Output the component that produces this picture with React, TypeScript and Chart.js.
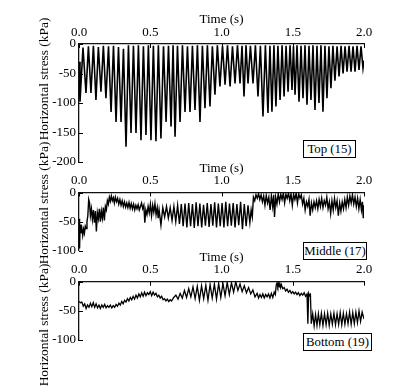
import React, { useEffect, useRef } from 'react';
import { Chart, registerables } from 'chart.js';

Chart.register(...registerables);

const FONT = '"Liberation Serif", "Times New Roman", serif';

const timeTicks = [0, 0.5, 1.0, 1.5, 2.0];
const topYTicks = [0, -50, -100, -150, -200];
const lowYTicks = [0, -50, -100];
const axisTitle = 'Time (s)';
const yTitle = 'Horizontal stress (kPa)';
const panelLabels = ['Top (15)', 'Middle (17)', 'Bottom (19)'];

// [time (s), horizontal stress (kPa)]
const topSeries: number[][] = [
  [0.000, -30], [0.007, -98], [0.028, -6], [0.049, -83], [0.066, -4], [0.084, -83], [0.101, -3],
  [0.119, -95], [0.136, -5], [0.154, -81], [0.171, -3], [0.189, -92], [0.207, -4], [0.225, -115],
  [0.242, -3], [0.260, -132], [0.277, -5], [0.295, -132], [0.312, -8], [0.330, -174], [0.347, -2],
  [0.365, -151], [0.382, -3], [0.400, -151], [0.417, -2], [0.435, -163], [0.452, -4], [0.470, -154],
  [0.487, -2], [0.505, -163], [0.522, -3], [0.540, -165], [0.557, -2], [0.575, -160], [0.593, -4],
  [0.611, -132], [0.628, -3], [0.646, -140], [0.660, -2], [0.674, -157], [0.691, -3], [0.709, -132],
  [0.726, -2], [0.744, -115], [0.761, -4], [0.779, -115], [0.796, -3], [0.814, -112], [0.831, -2],
  [0.849, -132], [0.866, -3], [0.884, -109], [0.901, -2], [0.919, -106], [0.936, -4], [0.954, -86],
  [0.971, -2], [0.989, -72], [1.007, -3], [1.025, -69], [1.042, -2], [1.060, -72], [1.077, -4],
  [1.095, -67], [1.112, -2], [1.130, -67], [1.144, -3], [1.158, -89], [1.172, -2], [1.186, -67],
  [1.203, -3], [1.221, -67], [1.238, -2], [1.256, -89], [1.273, -3], [1.291, -123], [1.308, -2],
  [1.326, -117], [1.340, -3], [1.354, -115], [1.368, -2], [1.382, -106], [1.396, -3], [1.411, -95],
  [1.425, -2], [1.439, -89], [1.453, -3], [1.467, -81], [1.481, -2], [1.495, -78], [1.505, -4],
  [1.516, -86], [1.530, -2], [1.544, -98], [1.558, -3], [1.572, -92], [1.586, -2], [1.600, -103],
  [1.614, -3], [1.628, -95], [1.642, -2], [1.656, -112], [1.670, -3], [1.684, -100], [1.698, -2],
  [1.712, -115], [1.726, -3], [1.740, -92], [1.754, -4], [1.768, -75], [1.782, -3], [1.796, -62],
  [1.811, -4], [1.825, -55], [1.839, -3], [1.853, -50], [1.867, -4], [1.881, -47], [1.895, -3],
  [1.909, -47], [1.923, -4], [1.937, -47], [1.951, -3], [1.965, -44], [1.979, -4], [1.993, -41],
  [2.000, -28],
];

const midSeries: number[][] = [
  [0.000, -45], [0.004, -96], [0.008, -55], [0.014, -70], [0.020, -62], [0.026, -74], [0.032, -63],
  [0.038, -70], [0.044, -58], [0.050, -62], [0.056, -50], [0.062, -40], [0.068, -12], [0.074, -18],
  [0.080, -40], [0.087, -28], [0.094, -46], [0.101, -30], [0.108, -52], [0.115, -32], [0.122, -67],
  [0.129, -35], [0.136, -45], [0.143, -28], [0.150, -50], [0.157, -32], [0.164, -44], [0.171, -26],
  [0.178, -48], [0.185, -24], [0.192, -30], [0.199, -14], [0.206, -20], [0.213, -8], [0.220, -15],
  [0.227, -6], [0.234, -14], [0.241, -9], [0.248, -18], [0.255, -8], [0.263, -16], [0.271, -10],
  [0.279, -20], [0.287, -12], [0.295, -22], [0.303, -14], [0.311, -24], [0.319, -16], [0.327, -25],
  [0.335, -18], [0.343, -26], [0.351, -17], [0.359, -27], [0.367, -19], [0.375, -28], [0.383, -20],
  [0.391, -30], [0.399, -22], [0.407, -28], [0.415, -21], [0.423, -30], [0.431, -24], [0.439, -18],
  [0.447, -28], [0.455, -22], [0.462, -52], [0.469, -30], [0.477, -38], [0.485, -24], [0.493, -35],
  [0.501, -20], [0.509, -40], [0.517, -22], [0.525, -34], [0.533, -19], [0.541, -38], [0.549, -26],
  [0.556, -44], [0.562, -30], [0.575, -56], [0.588, -26], [0.601, -42], [0.614, -24], [0.627, -44],
  [0.640, -26], [0.653, -48], [0.666, -24], [0.679, -50], [0.692, -22], [0.705, -54], [0.718, -20],
  [0.731, -58], [0.744, -19], [0.757, -60], [0.770, -18], [0.783, -58], [0.796, -20], [0.809, -61],
  [0.822, -17], [0.835, -58], [0.848, -19], [0.861, -60], [0.874, -21], [0.887, -57], [0.900, -18],
  [0.913, -59], [0.926, -20], [0.939, -57], [0.952, -17], [0.965, -60], [0.978, -19], [0.991, -58],
  [1.004, -18], [1.017, -60], [1.030, -16], [1.043, -58], [1.056, -19], [1.069, -57], [1.082, -18],
  [1.095, -60], [1.108, -20], [1.121, -56], [1.134, -16], [1.147, -63], [1.160, -20], [1.173, -58],
  [1.186, -22], [1.199, -52], [1.208, -30], [1.216, -42], [1.224, -8], [1.233, -14], [1.242, -4],
  [1.251, -10], [1.260, -2], [1.269, -12], [1.278, -4], [1.287, -16], [1.296, -6], [1.305, -22],
  [1.314, -5], [1.323, -18], [1.332, -8], [1.341, -30], [1.350, -6], [1.359, -24], [1.366, -4],
  [1.372, -42], [1.380, -8], [1.389, -20], [1.398, -2], [1.407, -16], [1.416, -3], [1.425, -12],
  [1.434, -1], [1.443, -18], [1.452, -3], [1.461, -10], [1.470, -1], [1.479, -14], [1.488, -2],
  [1.497, -22], [1.506, -3], [1.515, -12], [1.524, -1], [1.533, -18], [1.542, -2], [1.551, -10],
  [1.560, -4], [1.569, -20], [1.578, -10], [1.587, -30], [1.596, -16], [1.605, -24], [1.614, -12],
  [1.622, -40], [1.631, -18], [1.640, -30], [1.649, -16], [1.658, -26], [1.667, -14], [1.676, -28],
  [1.685, -12], [1.694, -24], [1.703, -10], [1.712, -26], [1.721, -14], [1.730, -22], [1.739, -8],
  [1.748, -28], [1.757, -16], [1.766, -36], [1.775, -14], [1.784, -30], [1.793, -10], [1.802, -26],
  [1.811, -14], [1.820, -40], [1.829, -18], [1.838, -32], [1.847, -16], [1.856, -28], [1.865, -12],
  [1.874, -26], [1.883, -8], [1.892, -22], [1.901, -6], [1.910, -18], [1.919, -4], [1.928, -20],
  [1.937, -8], [1.946, -24], [1.955, -10], [1.964, -28], [1.973, -12], [1.982, -30], [1.989, -16],
  [1.995, -44], [2.000, -22],
];

const botSeries: number[][] = [
  [0.000, -34], [0.010, -36], [0.020, -35], [0.030, -42], [0.040, -38], [0.050, -46], [0.060, -40],
  [0.070, -44], [0.080, -37], [0.090, -43], [0.100, -36], [0.110, -44], [0.120, -38], [0.130, -45],
  [0.140, -40], [0.150, -46], [0.160, -40], [0.170, -44], [0.180, -39], [0.190, -45], [0.200, -41],
  [0.210, -44], [0.220, -40], [0.230, -45], [0.240, -41], [0.250, -44], [0.260, -39], [0.270, -42],
  [0.280, -37], [0.290, -40], [0.300, -34], [0.310, -38], [0.320, -32], [0.330, -35], [0.340, -29],
  [0.350, -33], [0.360, -27], [0.370, -31], [0.380, -25], [0.390, -30], [0.400, -23], [0.410, -28],
  [0.420, -21], [0.430, -26], [0.440, -19], [0.450, -25], [0.460, -18], [0.470, -24], [0.480, -19],
  [0.490, -22], [0.500, -17], [0.510, -24], [0.520, -18], [0.530, -23], [0.540, -20], [0.550, -26],
  [0.560, -23], [0.570, -28], [0.580, -25], [0.590, -31], [0.600, -29], [0.610, -33], [0.620, -30],
  [0.630, -34], [0.640, -31], [0.650, -33], [0.665, -27], [0.680, -23], [0.695, -30], [0.710, -20],
  [0.725, -28], [0.740, -15], [0.755, -27], [0.770, -12], [0.785, -26], [0.800, -9], [0.815, -29],
  [0.830, -8], [0.845, -32], [0.860, -7], [0.875, -29], [0.890, -6], [0.905, -32], [0.920, -5],
  [0.935, -28], [0.950, -4], [0.965, -30], [0.980, -3], [0.995, -27], [1.010, -3], [1.025, -24],
  [1.040, -1], [1.055, -22], [1.070, -2], [1.085, -18], [1.100, 0], [1.115, -15], [1.130, -4],
  [1.145, -17], [1.160, -7], [1.175, -19], [1.190, -10], [1.205, -21], [1.220, -14], [1.235, -26],
  [1.250, -20], [1.260, -28], [1.270, -22], [1.280, -27], [1.290, -21], [1.300, -28], [1.310, -22],
  [1.320, -26], [1.330, -21], [1.340, -28], [1.350, -20], [1.360, -27], [1.370, -18], [1.378, -22],
  [1.384, -6], [1.390, -2], [1.395, -8], [1.400, -3], [1.405, -9], [1.410, -4], [1.415, -10],
  [1.420, -5], [1.430, -12], [1.440, -10], [1.450, -16], [1.460, -13], [1.470, -18], [1.480, -15],
  [1.490, -20], [1.500, -17], [1.510, -21], [1.520, -18], [1.530, -22], [1.540, -19], [1.550, -24],
  [1.560, -20], [1.570, -23], [1.580, -19], [1.590, -25], [1.600, -21], [1.606, -72], [1.612, -20],
  [1.618, -24], [1.624, -22], [1.630, -72], [1.640, -55], [1.650, -76], [1.660, -56], [1.670, -75],
  [1.680, -55], [1.690, -74], [1.701, -54], [1.712, -75], [1.723, -55], [1.734, -74], [1.745, -54],
  [1.756, -75], [1.767, -55], [1.778, -73], [1.789, -54], [1.800, -74], [1.811, -55], [1.822, -73],
  [1.833, -53], [1.844, -74], [1.855, -54], [1.866, -73], [1.877, -55], [1.888, -72], [1.899, -52],
  [1.910, -73], [1.921, -53], [1.932, -72], [1.943, -52], [1.954, -70], [1.965, -50], [1.976, -68],
  [1.987, -52], [2.000, -64],
];

const inwardTicks = {
  id: 'inwardTicks',
  afterDraw(chart: any) {
    const { ctx, chartArea, scales } = chart;
    ctx.save();
    ctx.strokeStyle = '#000';
    ctx.lineWidth = 1;
    scales.x.ticks.forEach((t: any) => {
      const px = Math.round(scales.x.getPixelForValue(t.value)) + 0.5;
      ctx.beginPath();
      ctx.moveTo(px, chartArea.top);
      ctx.lineTo(px, chartArea.top + 4);
      ctx.stroke();
    });
    scales.y.ticks.forEach((t: any) => {
      const py = Math.round(scales.y.getPixelForValue(t.value)) + 0.5;
      ctx.beginPath();
      ctx.moveTo(chartArea.left, py);
      ctx.lineTo(chartArea.left + 4, py);
      ctx.stroke();
    });
    ctx.restore();
  },
};

function zeroPad(s: any) {
  s.paddingLeft = 0;
  s.paddingRight = 0;
  s.paddingTop = 0;
  s.paddingBottom = 0;
}

type PanelProps = {
  series: number[][];
  yTicks: number[];
  top: number;
  height: number;
  padTop: number;
  padBottom: number;
  lineWidth: number;
};

function Panel({ series, yTicks, top, height, padTop, padBottom, lineWidth }: PanelProps) {
  const ref = useRef<HTMLCanvasElement | null>(null);
  useEffect(() => {
    if (!ref.current) return;
    const yMin = Math.min(...yTicks);
    const chart = new Chart(ref.current, {
      type: 'line',
      data: {
        datasets: [
          {
            data: series.map((p) => ({ x: p[0], y: p[1] })),
            borderColor: '#000',
            borderWidth: lineWidth,
            pointRadius: 0,
            tension: 0,
            fill: false,
          },
        ],
      },
      options: {
        responsive: false,
        animation: false,
        events: [],
        layout: { padding: { left: 34, right: 51, top: padTop, bottom: padBottom } },
        plugins: { legend: { display: false }, tooltip: { enabled: false } },
        scales: {
          x: {
            type: 'linear',
            position: 'top',
            min: 0,
            max: 2,
            afterBuildTicks: (s: any) => {
              s.ticks = timeTicks.map((v) => ({ value: v }));
            },
            afterFit: (s: any) => {
              s.height = 44;
              zeroPad(s);
            },
            grid: { display: false, drawTicks: false },
            border: { display: true, color: '#111', width: 1.3 },
            ticks: {
              color: '#000',
              font: { family: FONT, size: 13 },
              padding: 4,
              maxRotation: 0,
              autoSkip: false,
              callback: (v: any) => Number(v).toFixed(1),
            },
            title: {
              display: true,
              text: axisTitle,
              color: '#000',
              font: { family: FONT, size: 13 },
              padding: { top: 12, bottom: 0 },
            },
          },
          y: {
            type: 'linear',
            min: yMin,
            max: 0,
            afterBuildTicks: (s: any) => {
              s.ticks = yTicks.map((v) => ({ value: v }));
            },
            afterFit: (s: any) => {
              s.width = 45;
              zeroPad(s);
            },
            grid: { display: false, drawTicks: false },
            border: { display: true, color: '#111', width: 1.3 },
            ticks: {
              color: '#000',
              font: { family: FONT, size: 13 },
              padding: 3,
              autoSkip: false,
              callback: (v: any) => String(v),
            },
          },
        },
      },
      plugins: [inwardTicks],
    } as any);
    return () => chart.destroy();
  }, []);
  return (
    <canvas
      ref={ref}
      width={415}
      height={height}
      style={{ position: 'absolute', left: 0, top, width: 415, height }}
    />
  );
}

const yLabelCenters = [79, 203, 325];
const boxes = [
  { left: 303, top: 140, width: 53 },
  { left: 303, top: 242, width: 64 },
  { left: 303, top: 333, width: 69 },
];

export default function App() {
  return (
    <div
      style={{
        position: 'absolute',
        left: 0,
        top: 0,
        width: 415,
        height: 391,
        background: '#fff',
        overflow: 'hidden',
        fontFamily: FONT,
        color: '#000',
      }}
    >
      <Panel series={topSeries} yTicks={topYTicks} top={0} height={175} padTop={0} padBottom={13} lineWidth={1.6} />
      <Panel series={midSeries} yTicks={lowYTicks} top={148} height={112} padTop={0.5} padBottom={9.3} lineWidth={1.4} />
      <Panel series={botSeries} yTicks={lowYTicks} top={237} height={115} padTop={0.7} padBottom={12} lineWidth={1.3} />
      {yLabelCenters.map((cy, i) => (
        <div
          key={'yl' + i}
          style={{
            position: 'absolute',
            left: 44,
            top: cy,
            transform: 'translate(-50%, -50%) rotate(-90deg)',
            whiteSpace: 'nowrap',
            fontSize: 13.4,
            lineHeight: '14px',
          }}
        >
          {yTitle}
        </div>
      ))}
      {boxes.map((b, i) => (
        <div
          key={'bx' + i}
          style={{
            position: 'absolute',
            left: b.left,
            top: b.top,
            width: b.width,
            height: 18,
            boxSizing: 'border-box',
            border: '1px solid #000',
            fontSize: 12.8,
            lineHeight: '16px',
            textAlign: 'center',
            whiteSpace: 'nowrap',
            background: '#fff',
          }}
        >
          {panelLabels[i]}
        </div>
      ))}
    </div>
  );
}
